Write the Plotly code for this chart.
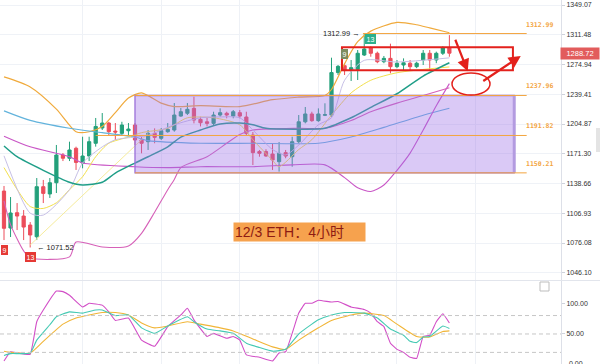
import math
import plotly.graph_objects as go

# ---------------- data ----------------
candle_idx = list(range(69))
open_px = [1130.5,1091.5,1107.5,1104.0,1094.6,1082.5,1135.2,1127.4,1139.5,1169.9,
           1166.3,1177.4,1161.0,1168.8,1183.0,1200.3,1206.0,1196.8,1194.2,1197.2,
           1203.7,1186.7,1184.8,1194.2,1188.6,1196.1,1198.0,1214.0,1217.2,1222.9,
           1210.2,1207.4,1205.6,1215.2,1217.2,1214.0,1217.9,1212.9,1192.3,1173.7,
           1173.7,1171.0,1162.5,1172.5,1168.0,1184.8,1207.4,1216.4,1208.7,1214.9,
           1215.2,1265.2,1273.5,1268.3,1269.2,1286.5,1295.1,1288.6,1278.3,1282.4,
           1272.3,1274.3,1276.5,1272.3,1280.4,1288.6,1280.4,1288.6,1295.1]
high_px = [1136.0,1124.1,1117.7,1110.3,1097.7,1144.6,1142.5,1144.6,1181.1,1172.1,
           1184.8,1179.2,1190.4,1190.4,1211.8,1217.5,1207.4,1206.0,1207.4,1206.0,
           1206.0,1190.4,1198.0,1199.9,1200.3,1206.0,1229.1,1223.3,1229.1,1236.5,
           1213.2,1211.8,1219.0,1222.9,1219.0,1221.0,1221.0,1219.0,1195.7,1175.5,
           1176.3,1183.3,1184.4,1175.5,1190.4,1215.2,1224.5,1219.0,1222.9,1228.8,
           1283.2,1274.3,1276.5,1280.4,1292.6,1312.99,1297.2,1290.6,1285.3,1300.4,
           1280.4,1282.4,1280.4,1278.3,1292.6,1292.6,1290.6,1297.2,1311.0]
low_px = [1079.1,1082.2,1089.4,1079.1,1071.52,1079.1,1117.7,1123.1,1128.4,1163.2,
          1163.2,1153.4,1155.2,1163.2,1179.2,1198.0,1192.3,1186.7,1192.3,1192.3,
          1181.1,1171.8,1175.5,1183.0,1186.7,1194.9,1196.1,1213.2,1215.2,1205.6,
          1202.1,1202.1,1203.7,1213.2,1211.4,1211.4,1211.4,1192.3,1158.8,1168.0,
          1168.0,1153.4,1151.6,1166.3,1157.0,1183.0,1205.6,1207.4,1207.4,1214.0,
          1213.2,1262.3,1262.3,1255.1,1256.3,1285.3,1284.4,1276.5,1276.5,1264.3,
          1270.5,1268.3,1268.3,1270.5,1274.3,1268.3,1276.5,1286.5,1284.4]
close_px = [1091.2,1107.2,1104.0,1092.5,1084.3,1135.2,1128.0,1139.5,1169.9,1166.3,
            1175.5,1161.7,1168.8,1184.8,1202.1,1206.0,1196.1,1195.7,1203.7,1199.1,
            1186.7,1183.0,1194.2,1189.7,1197.2,1198.8,1215.2,1219.0,1221.8,1209.4,
            1206.3,1205.6,1215.2,1217.9,1215.2,1219.0,1214.0,1194.2,1172.5,1171.8,
            1168.8,1164.4,1171.8,1168.8,1184.8,1207.4,1216.4,1208.7,1216.4,1215.6,
            1265.2,1272.7,1267.6,1271.1,1288.6,1293.9,1288.6,1278.3,1282.4,1272.3,
            1276.5,1277.1,1272.3,1276.5,1288.6,1280.4,1288.6,1295.1,1288.72]

price_ticks = [1349.07, 1311.48, 1274.94, 1239.41, 1204.87, 1171.30, 1138.66, 1106.93, 1076.08, 1046.10]
price_tick_text = ["1349.07", "1311.48", "1274.94", "1239.41", "1204.87", "1171.30", "1138.66", "1106.93", "1076.08", "1046.10"]
levels = [1312.99, 1237.96, 1191.82, 1150.21]
level_text = ["1312.99", "1237.96", "1191.82", "1150.21"]
last_price = 1288.72
swing_high = 1312.99
swing_low = 1071.52
kdj_ticks = [100, 50]
kdj_tick_text = ["100.00", "50.00"]
kdj_guides = [80, 50, 20]

# indicator lines on the price pane (candle index, price)
upper_x = [0, 4, 8, 11, 13, 15, 17, 19, 21, 24, 26, 30, 36, 41, 45, 49, 50, 52, 54, 56, 60, 63, 65, 68]
upper_y = [1260, 1248, 1222, 1196, 1196, 1202, 1218, 1235, 1241, 1229, 1225, 1226, 1225, 1233, 1236, 1238, 1245, 1276, 1303, 1316, 1327, 1324, 1320, 1314]
blue_x = [0, 4, 10, 15, 20, 22, 30, 38, 48, 53, 58, 64, 68]
blue_y = [1220, 1209, 1200, 1195, 1190, 1186, 1183, 1183, 1183, 1190, 1201, 1215, 1223]
teal_x = [0, 2, 6, 10, 12, 15, 17, 20, 22, 25, 27, 30, 33, 36, 38, 40, 45, 49, 53, 56, 60, 64, 68]
teal_y = [1180, 1168, 1153, 1140, 1137, 1140, 1150, 1161, 1168, 1179, 1190, 1198, 1205, 1206, 1204, 1200, 1199, 1200, 1212, 1224, 1240, 1261, 1277]
lower_x = [0, 4, 10, 12, 20, 25, 30, 38, 44, 49, 52, 54, 56, 58, 60, 62, 64, 66, 68]
lower_y = [1191, 1179, 1168, 1161, 1157, 1156, 1157, 1157, 1159, 1159, 1145, 1134, 1130, 1137, 1153, 1172, 1198, 1226, 1252]
mag_x = [0, 1, 3, 4, 10, 11, 15, 19, 21, 23, 25, 26, 27, 31, 34, 36, 38, 45, 49, 53, 56, 60, 64, 68]
mag_y = [1120, 1095, 1068, 1061, 1062, 1077, 1072, 1073, 1086, 1108, 1132, 1143, 1156, 1168, 1183, 1193, 1198, 1200, 1200, 1209, 1219, 1229, 1238, 1247]
lav_x = [0, 4, 6, 10, 12, 15, 17, 20, 22, 26, 30, 33, 36, 38, 41, 43, 45, 48, 50, 52, 55, 60, 68]
lav_y = [1169, 1107, 1105, 1132, 1161, 1179, 1187, 1190, 1192, 1204, 1212, 1213, 1212, 1198, 1176, 1170, 1181, 1204, 1212, 1256, 1280, 1278, 1283]
yel_x = [0, 4, 6, 8, 10, 12, 14, 16, 19, 21, 25, 28, 32, 36, 38, 41, 42, 45, 47, 50, 53, 56, 60, 68]
yel_y = [1156, 1114, 1112, 1118, 1132, 1146, 1168, 1183, 1190, 1195, 1200, 1212, 1212, 1204, 1187, 1164, 1157, 1176, 1187, 1215, 1241, 1256, 1265, 1272]
trend_x = [4, 22]
trend_y = [1074, 1194]

# KDJ pane
j_x = [0,1,2,4,5,6,8,9,10,12,13,15,16,17,19,21,23,25,27,28,29,31,32,34,35,36,37,39,41,42,43,45,46,47,48,50,51,53,55,56,57,58,59,60,61,62,63,64,65,66,67,68]
j_v = [6,21,19,17,70,89,120,119,113,94,100,97,86,72,76,40,30,62,81,92,73,46,51,43,46,40,16,12,6,19,21,84,100,100,105,102,103,94,90,84,70,62,35,25,20,12,10,46,48,70,83,68]
k_x = [0,1,4,5,7,8,10,12,14,15,17,19,21,23,25,28,29,31,33,35,37,39,41,43,45,47,48,50,52,53,55,57,59,61,62,63,64,65,67,68]
k_v = [15,18,19,40,65,78,86,84,89,89,80,81,60,51,63,78,70,58,55,51,35,28,22,25,50,66,73,81,85,85,84,76,58,48,38,36,45,46,63,59]
d_x = [0,1,4,6,9,11,13,15,17,19,21,23,25,28,30,33,35,38,41,43,45,48,50,53,55,58,60,63,65,67,68]
d_v = [22,20,19,38,66,76,81,85,85,81,68,60,63,70,66,60,55,42,29,25,40,60,72,81,84,80,66,46,45,54,55]

# zones drawn on the chart (candle index / price)
box_x = [20.0, 77.9]
rect_x = [51.6, 77.7]
rect_y = [1268, 1296]
level_x_start = [54.8, 20.0, 14.0, 20.0]
level_x_end = 79.8

# ---------------- figure ----------------
W, H = 600, 364
PLOT_W = 561
UP = "#23a07a"
DOWN = "#ec4d5b"
RED = "#e3211c"
ORANGE = "#f3a53f"
FONT = "Liberation Sans, Arial, sans-serif"

fig = go.Figure()


def add_line(xs, ys, color, width, xa="x", ya="y", smooth=0.7):
    fig.add_trace(go.Scatter(x=xs, y=ys, mode="lines", xaxis=xa, yaxis=ya,
                             line=dict(color=color, width=width, shape="spline", smoothing=smooth),
                             hoverinfo="skip", showlegend=False))


add_line(trend_x, trend_y, "#f6ec9c", 1)
add_line(upper_x, upper_y, "#f0aa3c", 1.2)
add_line(blue_x, blue_y, "#62b3dc", 1.1)
add_line(lower_x, lower_y, "#c956c6", 1.1)
add_line(mag_x, mag_y, "#d660b8", 1.1)
add_line(yel_x, yel_y, "#f3e04c", 1)
add_line(lav_x, lav_y, "#c7c0e6", 1)
add_line(teal_x, teal_y, "#1f9e88", 1.5)

fig.add_trace(go.Candlestick(
    x=candle_idx, open=open_px, high=high_px, low=low_px, close=close_px,
    increasing=dict(line=dict(color=UP, width=1), fillcolor=UP),
    decreasing=dict(line=dict(color=DOWN, width=1), fillcolor=DOWN),
    whiskerwidth=0, showlegend=False, hoverinfo="skip", xaxis="x", yaxis="y"))

add_line(j_x, j_v, "#d24fc7", 1.1, "x2", "y2", 0.3)
add_line(d_x, d_v, "#f1b537", 1.1, "x2", "y2", 0.5)
add_line(k_x, k_v, "#45c9b3", 1.1, "x2", "y2", 0.4)

shapes = []
# purple consolidation box (tinted fill above candles, then border)
shapes.append(dict(type="rect", xref="x", yref="y", x0=box_x[0], x1=box_x[1], y0=levels[3], y1=levels[1],
                   fillcolor="rgb(158,112,232)", opacity=0.38, line=dict(width=0), layer="above"))
shapes.append(dict(type="rect", xref="x", yref="y", x0=box_x[0], x1=box_x[1], y0=levels[3], y1=levels[1],
                   fillcolor="rgba(0,0,0,0)", line=dict(color="#9a6fd8", width=1.3), layer="above"))
shapes.append(dict(type="line", xref="x", yref="y", x0=box_x[1], x1=box_x[1], y0=levels[3], y1=levels[1],
                   line=dict(color="#b39be0", width=3), layer="above"))
for lv, xs in zip(levels, level_x_start):
    shapes.append(dict(type="line", xref="x", yref="y", x0=xs, x1=level_x_end, y0=lv, y1=lv,
                       line=dict(color=ORANGE, width=1), layer="above"))
shapes.append(dict(type="rect", xref="x", yref="y", x0=rect_x[0], x1=rect_x[1], y0=rect_y[0], y1=rect_y[1],
                   fillcolor="rgba(0,0,0,0)", line=dict(color=RED, width=2), layer="above"))
shapes.append(dict(type="circle", xref="x", yref="y", x0=68.4, x1=74.2, y0=1238.5, y1=1264.7,
                   fillcolor="rgba(0,0,0,0)", line=dict(color=RED, width=1.5), layer="above"))
for g in kdj_guides:
    shapes.append(dict(type="line", xref="paper", yref="y2", x0=0, x1=PLOT_W / W, y0=g, y1=g,
                       line=dict(color="#c6c6c6", width=1, dash="4px,3px")))
# pane separator
shapes.append(dict(type="line", xref="paper", yref="paper", x0=0, x1=1, y0=1 - 280.5 / H, y1=1 - 280.5 / H,
                   line=dict(color="#e2e5ec", width=1)))
# small expand icon and side tab
shapes.append(dict(type="rect", xref="paper", yref="paper", x0=540 / W, x1=549 / W, y0=1 - 291 / H, y1=1 - 282 / H,
                   line=dict(color="#bdbdbd", width=1), fillcolor="white"))
shapes.append(dict(type="rect", xref="paper", yref="paper", x0=596 / W, x1=1, y0=1 - 152 / H, y1=1 - 128 / H,
                   line=dict(width=0), fillcolor="#e4e4e4"))

ann = []
for lv, t in zip(levels, level_text):
    ann.append(dict(xref="x", yref="y", x=84.1, y=math.log10(lv), text=t, showarrow=False,
                    xanchor="right", yanchor="bottom", yshift=3,
                    font=dict(family="DejaVu Sans Mono, monospace", size=6.5, color=ORANGE, weight="bold")))
ann.append(dict(xref="x", yref="y", x=54.7, y=math.log10(swing_high), text=f"{swing_high:.2f} →", showarrow=False,
                xanchor="right", yanchor="middle", font=dict(family=FONT, size=7.5, color="#222")))
ann.append(dict(xref="x", yref="y", x=4.7, y=math.log10(swing_low), text=f"← {swing_low:.2f}", showarrow=False,
                xanchor="left", yanchor="middle", font=dict(family=FONT, size=7.5, color="#222")))
# TD sequential counts
td = [(0, low_px[0], "9", -10, "#e53935"), (4, low_px[4], "13", -10, "#e53935"),
      (52, high_px[52], "9", 9, "#7d8c5e"), (56, high_px[56], "13", 7, "#2bb08d")]
for xi, yv, t, sh, col in td:
    ann.append(dict(xref="x", yref="y", x=xi, y=math.log10(yv), text=t, showarrow=False, yshift=sh,
                    bgcolor=col, bordercolor=col, borderpad=0.5,
                    font=dict(family=FONT, size=7, color="white")))
# arrows
ann.append(dict(xref="x", yref="y", x=70.8, y=math.log10(1266.8), ax=-13, ay=-33, text="", showarrow=True,
                arrowhead=2, arrowsize=1.1, arrowwidth=2.2, arrowcolor=RED, standoff=0))
ann.append(dict(xref="x", yref="y", x=78.9, y=math.log10(1285.3), ax=-39, ay=26, text="", showarrow=True,
                arrowhead=2, arrowsize=1.1, arrowwidth=2.2, arrowcolor=RED, standoff=0))
# title box
ann.append(dict(xref="paper", yref="paper", x=233 / W, y=1 - 222 / H, xanchor="left", yanchor="top",
                text="12/3 ETH：4小时", showarrow=False, align="left", width=129, height=16,
                bgcolor="#f6a24e", borderpad=1,
                font=dict(family="Liberation Sans, Noto Sans CJK SC, sans-serif", size=14, color="#8e1b12")))
# last price tag
ann.append(dict(xref="paper", yref="y", x=560 / W, y=math.log10(last_price), xanchor="left", yanchor="middle",
                text=f"{last_price:.2f}", showarrow=False, bgcolor="#e25c5c", width=37, height=10, borderpad=0.5,
                font=dict(family=FONT, size=7.5, color="white")))
ann.append(dict(xref="paper", yref="paper", x=567 / W, y=1 - 363.5 / H, xanchor="left", yanchor="middle",
                text="0.00", showarrow=False, font=dict(family=FONT, size=7, color="#333")))

grid_x = [12, 24, 36, 48, 60, 72]
xa_common = dict(domain=[0, PLOT_W / W], range=[-0.61, 85.04], showticklabels=False, tickvals=grid_x,
                 showgrid=True, gridcolor="#eef1f6", gridwidth=1, zeroline=False, ticks="",
                 showline=False, fixedrange=True)

fig.update_layout(
    width=W, height=H, margin=dict(l=0, r=0, t=0, b=0), template="none",
    paper_bgcolor="white", plot_bgcolor="white", showlegend=False,
    shapes=shapes, annotations=ann,
    xaxis=dict(**xa_common, anchor="y", rangeslider=dict(visible=False)),
    xaxis2=dict(**xa_common, anchor="y2", matches="x"),
    yaxis=dict(domain=[1 - 280 / H, 1], type="log", range=[3.01658, 3.13210], side="right", anchor="x",
               tickvals=price_ticks, ticktext=price_tick_text, showgrid=True, gridcolor="#eff2f7",
               showline=True, linecolor="#dde0e8", ticks="outside", ticklen=3, tickcolor="#cfd3db",
               tickfont=dict(family=FONT, size=7, color="#333"), automargin=False, zeroline=False,
               fixedrange=True),
    yaxis2=dict(domain=[0, 83 / H], range=[1.1, 136.3], side="right", anchor="x2",
                tickvals=kdj_ticks, ticktext=kdj_tick_text, showgrid=False,
                showline=True, linecolor="#dde0e8", ticks="outside", ticklen=3, tickcolor="#cfd3db",
                tickfont=dict(family=FONT, size=7, color="#333"), automargin=False, zeroline=False,
                fixedrange=True),
)

fig.write_html("out.html", config={"displayModeBar": False},
               post_script="document.body.style.margin='0px';document.body.style.overflow='hidden';")
